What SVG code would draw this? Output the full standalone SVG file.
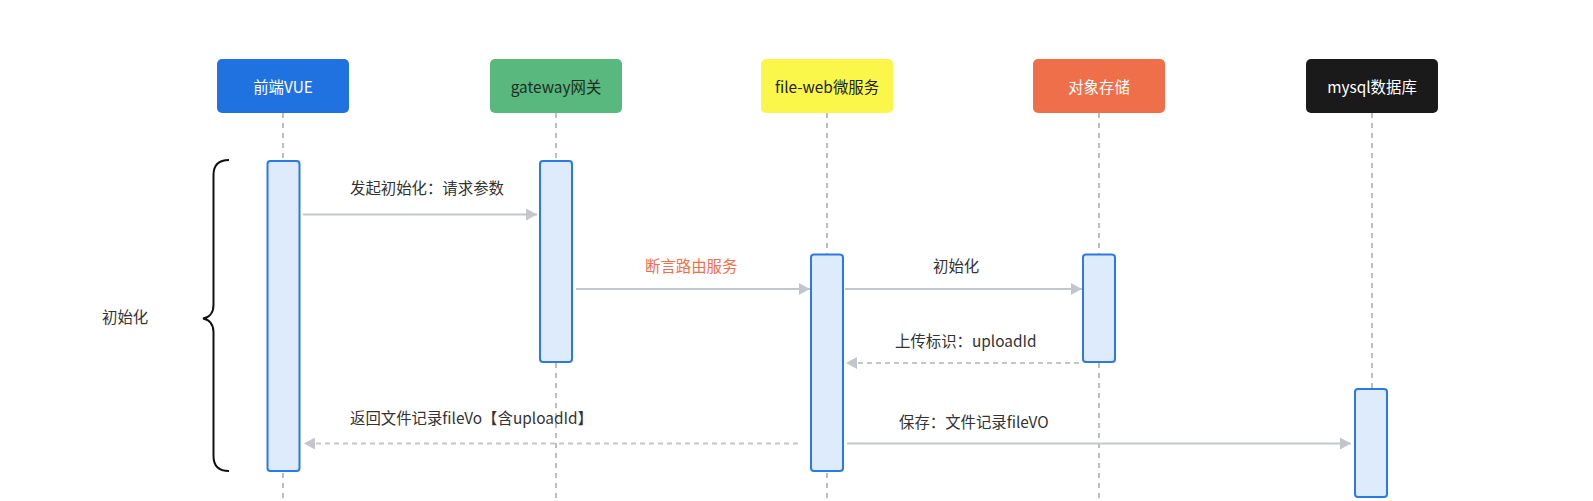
<svg xmlns="http://www.w3.org/2000/svg" width="1593" height="501" viewBox="0 0 1593 501">
<style>
text{font-family:"Noto Sans CJK SC","Noto Sans",sans-serif;font-size:15.4px;}
.lbl{fill:#333333;}
.nt{text-anchor:middle;dominant-baseline:central;}
.life{stroke:#BDBDBD;stroke-width:2;stroke-dasharray:5,5;}
.act{fill:#DDEBFD;stroke:#2A7AE2;stroke-width:2;}
.msg{stroke:#C3C7CC;stroke-width:2;fill:none;}
.dash{stroke-dasharray:5,4;}
</style>
<defs>
<marker id="ah" viewBox="0 0 11 12" refX="11" refY="6" markerWidth="11" markerHeight="12" markerUnits="userSpaceOnUse" orient="auto">
<path d="M0,0 L11,6 L0,12 Z" fill="#C3C7CC"/>
</marker>
</defs>
<rect width="1593" height="501" fill="#FFFFFF"/>
<g id="lifelines">
<line class="life" x1="283" y1="113" x2="283" y2="501"/>
<line class="life" x1="556" y1="113" x2="556" y2="501"/>
<line class="life" x1="827" y1="113" x2="827" y2="501"/>
<line class="life" x1="1099" y1="113" x2="1099" y2="501"/>
<line class="life" x1="1372" y1="113" x2="1372" y2="501"/>
</g>
<g id="node-vue">
<rect x="217" y="59" width="132" height="54" rx="5" fill="#2072E0"/>
<text class="nt" x="283" y="86" fill="#FFFFFF">前端VUE</text>
</g>
<g id="node-gateway">
<rect x="490" y="59" width="132" height="54" rx="5" fill="#58B87D"/>
<text class="nt" x="556" y="86" fill="#1F2D24">gateway网关</text>
</g>
<g id="node-fileweb">
<rect x="761" y="59" width="132" height="54" rx="5" fill="#FBF64A"/>
<text class="nt" x="827" y="86" fill="#222222">file-web微服务</text>
</g>
<g id="node-oss">
<rect x="1033" y="59" width="132" height="54" rx="5" fill="#EE6F4A"/>
<text class="nt" x="1099" y="86" fill="#FFFFFF">对象存储</text>
</g>
<g id="node-mysql">
<rect x="1306" y="59" width="132" height="54" rx="5" fill="#1A1A1A"/>
<text class="nt" x="1372" y="86" fill="#FFFFFF">mysql数据库</text>
</g>
<g id="activations">
<rect class="act" x="267.5" y="161" width="32" height="310" rx="3"/>
<rect class="act" x="540" y="161" width="32" height="201" rx="3"/>
<rect class="act" x="811" y="254.5" width="32" height="216.5" rx="3"/>
<rect class="act" x="1083" y="254.5" width="32" height="107.5" rx="3"/>
<rect class="act" x="1355" y="389" width="32" height="108" rx="3"/>
</g>
<g id="connectors">
<line class="msg" x1="303" y1="214.5" x2="537" y2="214.5" marker-end="url(#ah)"/>
<line class="msg" x1="576" y1="289" x2="810" y2="289" marker-end="url(#ah)"/>
<line class="msg" x1="845" y1="289" x2="1082" y2="289" marker-end="url(#ah)"/>
<line class="msg dash" x1="1079" y1="363" x2="846" y2="363" marker-end="url(#ah)"/>
<line class="msg dash" x1="798" y1="443.5" x2="304" y2="443.5" marker-end="url(#ah)"/>
<line class="msg" x1="847" y1="443.5" x2="1351" y2="443.5" marker-end="url(#ah)"/>
</g>
<g id="labels">
<text class="lbl" x="350" y="193.5">发起初始化：请求参数</text>
<text x="645" y="272" fill="#EE6F4A">断言路由服务</text>
<text class="lbl" x="933" y="272">初始化</text>
<text class="lbl" x="895" y="346.5">上传标识：uploadId</text>
<text class="lbl" x="350" y="423.5">返回文件记录fileVo【含uploadId】</text>
<text class="lbl" x="899" y="427.5">保存：文件记录fileVO</text>
</g>
<g id="brace">
<path d="M229,160 C218,160 213.5,165 213.5,175 L213.5,305 C213.5,313 209,317.5 203,318.5 C209,319.5 213.5,324 213.5,332 L213.5,456 C213.5,466 218,471 229,471" fill="none" stroke="#111111" stroke-width="2"/>
<text class="lbl" x="102" y="323">初始化</text>
</g>
</svg>
